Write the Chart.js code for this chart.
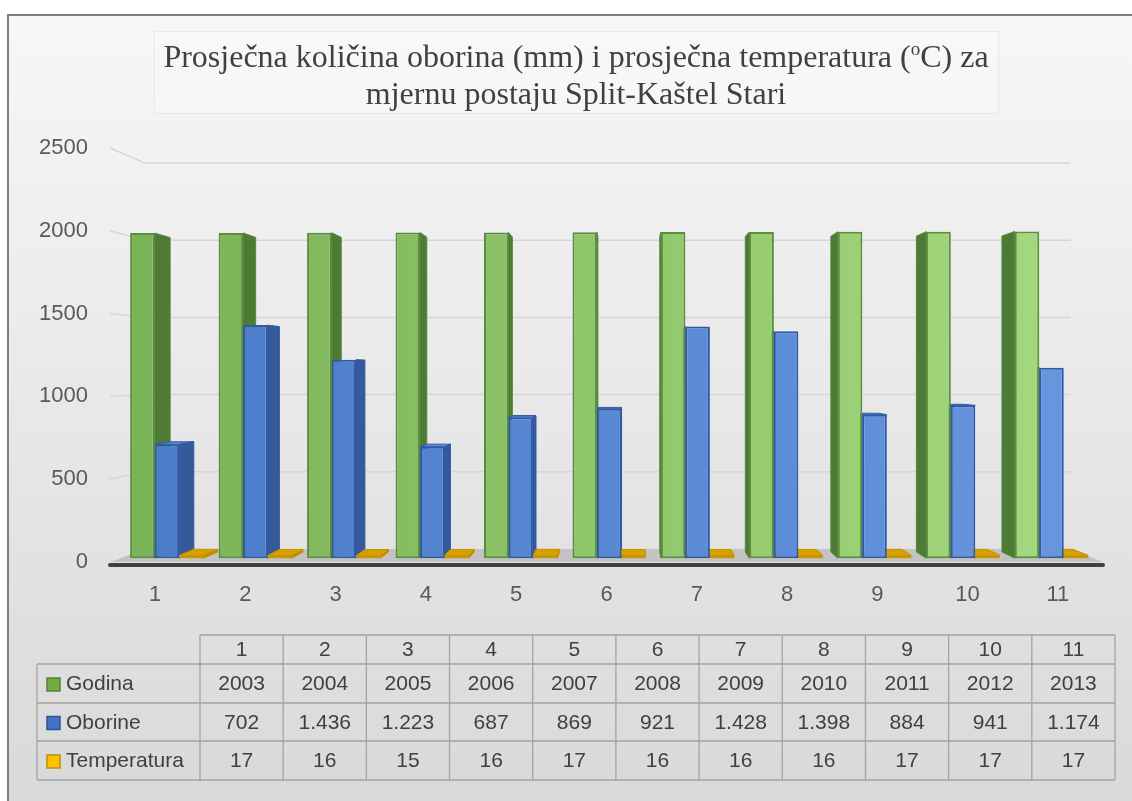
<!DOCTYPE html>
<html>
<head>
<meta charset="utf-8">
<script src="https://cdn.jsdelivr.net/npm/chart.js@4.4.0/dist/chart.umd.min.js"></script>
<style>
    html, body { margin: 0; padding: 0; background: #fff; }
    #chart-area { display: block; }
</style>
</head>
<body>
<canvas id="chart-area" width="1132" height="801"></canvas>
<script>
var categories = ['1', '2', '3', '4', '5', '6', '7', '8', '9', '10', '11'];
var godina = [2003, 2004, 2005, 2006, 2007, 2008, 2009, 2010, 2011, 2012, 2013];
var oborine = [702, 1436, 1223, 687, 869, 921, 1428, 1398, 884, 941, 1174];
var temperatura = [17, 16, 15, 16, 17, 16, 16, 16, 17, 17, 17];
var seriesNames = ['Godina', 'Oborine', 'Temperatura'];
var yTicks = [0, 500, 1000, 1500, 2000, 2500];
var titleLine1 = ['Prosječna količina oborina (mm) i prosječna temperatura (', 'o', 'C) za'];
var titleLine2 = 'mjernu postaju Split-Kaštel Stari';

// fake 3d: points converge to these
var VX = 741, VY = 370, SX = 625;
var BAR_K = 0.98, SIDE_K = 0.967, WALL_K = 0.932;

var faceColors = [
    {side: '#4d7b35', top: '#8dc466', edge: '#548a35'},
    {side: '#35599a', top: '#5f8dd8', edge: '#2f5aa6'},
    {side: '#b98a00', top: '#d6a000', edge: '#c69300'}
];

function proj(x, y, cx, k) {
    return [cx + (x - cx) * k, VY + (y - VY) * k];
}

// 1436 -> "1.436"
function fmt(n) {
    if (n < 1000) return String(n);
    var r = String(n % 1000);
    while (r.length < 3) r = '0' + r;
    return Math.floor(n / 1000) + '.' + r;
}

function hGrad(from, to) {
    return function (c) {
        var a = c.chart.chartArea;
        if (!a) return from;
        var g = c.chart.ctx.createLinearGradient(a.left, 0, a.right, 0);
        g.addColorStop(0, from);
        g.addColorStop(1, to);
        return g;
    };
}

var backgroundPlugin = {
    id: 'background',
    beforeDraw: function (chart) {
        var ctx = chart.ctx;
        ctx.save();
        ctx.fillStyle = '#fff';
        ctx.fillRect(0, 0, chart.width, chart.height);
        var g = ctx.createLinearGradient(0, 15, 0, chart.height);
        g.addColorStop(0, '#f7f7f7');
        g.addColorStop(1, '#d9d9d9');
        ctx.fillStyle = g;
        ctx.fillRect(8, 15, chart.width - 8, chart.height - 15);
        ctx.fillStyle = '#7f7f7f';
        ctx.fillRect(7, 14, chart.width - 7, 2);
        ctx.fillRect(7, 14, 2, chart.height - 14);
        // title box
        ctx.fillStyle = 'rgba(255,255,255,0.25)';
        ctx.fillRect(154, 31, 844, 82);
        ctx.strokeStyle = '#e8e8e8';
        ctx.lineWidth = 1;
        ctx.strokeRect(154.5, 31.5, 844, 82);
        ctx.restore();
    }
};

var depthPlugin = {
    id: 'depth',
    afterDatasetsUpdate: function (chart) {
        chart.data.datasets.forEach(function (ds, i) {
            chart.getDatasetMeta(i).data.forEach(function (el) {
                el.x = VX + (el.x - VX) * BAR_K;
                el.y = VY + (el.y - VY) * BAR_K;
                el.base = VY + (el.base - VY) * BAR_K;
                el.width = el.width * BAR_K;
            });
        });
    },
    beforeDatasetsDraw: function (chart) {
        var ctx = chart.ctx, a = chart.chartArea, ys = chart.scales.y;
        var base = ys.getPixelForValue(0);
        ctx.save();
        // floor
        var bl = proj(a.left, base, SX, WALL_K), br = proj(a.right, base, SX, WALL_K);
        ctx.fillStyle = '#c3c3c3';
        ctx.beginPath();
        ctx.moveTo(a.left, base);
        ctx.lineTo(a.right, base);
        ctx.lineTo(br[0], br[1]);
        ctx.lineTo(bl[0], bl[1]);
        ctx.closePath();
        ctx.fill();
        // gridlines on side and back wall
        ctx.strokeStyle = '#d6d6d6';
        ctx.lineWidth = 1.5;
        yTicks.forEach(function (v) {
            if (v === 0) return;
            var f = ys.getPixelForValue(v);
            var p1 = proj(a.left, f, SX, WALL_K), p2 = proj(a.right, f, SX, WALL_K);
            ctx.beginPath();
            ctx.moveTo(a.left, f);
            ctx.lineTo(p1[0], p1[1]);
            ctx.lineTo(p2[0], p1[1]);
            ctx.stroke();
        });
        ctx.strokeStyle = '#404040';
        ctx.lineWidth = 4;
        ctx.lineCap = 'round';
        ctx.beginPath();
        ctx.moveTo(a.left, base + 3);
        ctx.lineTo(a.right, base + 3);
        ctx.stroke();
        // side and top faces of bars
        ctx.lineWidth = 1;
        ctx.lineCap = 'butt';
        chart.data.datasets.forEach(function (ds, i) {
            var c = faceColors[i];
            chart.getDatasetMeta(i).data.forEach(function (el) {
                var l = el.x - el.width / 2, r = el.x + el.width / 2;
                var t = Math.min(el.y, el.base), b = el.base;
                var ex = null;
                if (r < SX) ex = r; else if (l > SX) ex = l;
                if (ex !== null) {
                    var q1 = proj(ex, t, SX, SIDE_K), q2 = proj(ex, b, SX, SIDE_K);
                    ctx.fillStyle = c.side;
                    ctx.strokeStyle = c.edge;
                    ctx.beginPath();
                    ctx.moveTo(ex, t);
                    ctx.lineTo(q1[0], q1[1]);
                    ctx.lineTo(q2[0], q2[1]);
                    ctx.lineTo(ex, b);
                    ctx.closePath();
                    ctx.fill();
                    ctx.stroke();
                }
                if (t > VY) {
                    var s1 = proj(l, t, SX, SIDE_K), s2 = proj(r, t, SX, SIDE_K);
                    ctx.fillStyle = c.top;
                    ctx.strokeStyle = c.edge;
                    ctx.beginPath();
                    ctx.moveTo(l, t);
                    ctx.lineTo(r, t);
                    ctx.lineTo(s2[0], s2[1]);
                    ctx.lineTo(s1[0], s1[1]);
                    ctx.closePath();
                    ctx.fill();
                    ctx.stroke();
                }
            });
        });
        ctx.restore();
    }
};

var titleTablePlugin = {
    id: 'titleTable',
    afterDraw: function (chart) {
        var ctx = chart.ctx;
        ctx.save();
        // title
        var size = 32;
        var supSize = 19;
        var serif = '"Liberation Serif", "Times New Roman", serif';
        ctx.font = size + 'px ' + serif;
        var w0 = ctx.measureText(titleLine1[0]).width, w2 = ctx.measureText(titleLine1[2]).width;
        ctx.font = supSize + 'px ' + serif;
        var w1 = ctx.measureText(titleLine1[1]).width;
        var x = 576 - (w0 + w1 + w2) / 2;
        ctx.fillStyle = '#404040';
        ctx.textBaseline = 'alphabetic';
        ctx.textAlign = 'left';
        ctx.font = size + 'px ' + serif;
        ctx.fillText(titleLine1[0], x, 67);
        ctx.font = supSize + 'px ' + serif;
        ctx.fillText(titleLine1[1], x + w0, 55);
        ctx.font = size + 'px ' + serif;
        ctx.fillText(titleLine1[2], x + w0 + w1, 67);
        ctx.textAlign = 'center';
        ctx.fillText(titleLine2, 576, 104);

        // data table
        var left = 37, labelRight = 200, colW = (1115 - 200) / categories.length;
        var rowsY = [635, 664, 703, 741, 780];
        var rows = [
            {name: seriesNames[0], vals: godina.map(String), fill: '#70ad47', stroke: '#548235'},
            {name: seriesNames[1], vals: oborine.map(fmt), fill: '#4472c4', stroke: '#2f5597'},
            {name: seriesNames[2], vals: temperatura.map(String), fill: '#ffc000', stroke: '#bf9000'}
        ];
        var right = labelRight + colW * categories.length;
        ctx.strokeStyle = '#a3a3a3';
        ctx.lineWidth = 1.3;
        ctx.beginPath();
        ctx.moveTo(labelRight, rowsY[0]);
        ctx.lineTo(right, rowsY[0]);
        for (var r = 1; r < rowsY.length; r++) {
            ctx.moveTo(left, rowsY[r]);
            ctx.lineTo(right, rowsY[r]);
        }
        ctx.moveTo(left, rowsY[1]);
        ctx.lineTo(left, rowsY[4]);
        for (var c = 0; c <= categories.length; c++) {
            var cx = labelRight + c * colW;
            ctx.moveTo(cx, rowsY[0]);
            ctx.lineTo(cx, rowsY[4]);
        }
        ctx.stroke();

        ctx.fillStyle = '#404040';
        ctx.font = '21px "Liberation Sans", Arial, sans-serif';
        ctx.textBaseline = 'middle';
        ctx.textAlign = 'center';
        categories.forEach(function (cat, i) {
            ctx.fillText(cat, labelRight + (i + 0.5) * colW, (rowsY[0] + rowsY[1]) / 2 + 1);
        });
        rows.forEach(function (row, ri) {
            var cy = (rowsY[ri + 1] + rowsY[ri + 2]) / 2 + 1;
            ctx.fillStyle = row.fill;
            ctx.fillRect(47, cy - 6.5, 13, 13);
            ctx.strokeStyle = row.stroke;
            ctx.lineWidth = 1.5;
            ctx.strokeRect(47, cy - 6.5, 13, 13);
            ctx.fillStyle = '#404040';
            ctx.textAlign = 'left';
            ctx.fillText(row.name, 66, cy);
            ctx.textAlign = 'center';
            row.vals.forEach(function (v, i) {
                ctx.fillText(v, labelRight + (i + 0.5) * colW, cy);
            });
        });
        ctx.restore();
    }
};

var tickFont = {family: '"Liberation Sans", Arial, sans-serif', size: 22};

var config = {
    type: 'bar',
    data: {
        labels: categories,
        datasets: [{
                label: seriesNames[0],
                data: godina,
                backgroundColor: hGrad('#79b157', '#a6da80'),
                borderColor: '#5a8e3b',
                borderWidth: 2,
                borderSkipped: false
            }, {
                label: seriesNames[1],
                data: oborine,
                backgroundColor: hGrad('#4a7bc8', '#6896df'),
                borderColor: '#2f5aa6',
                borderWidth: 2,
                borderSkipped: false
            }, {
                label: seriesNames[2],
                data: temperatura,
                backgroundColor: '#c99600',
                borderColor: '#c99600',
                borderWidth: 0,
                borderSkipped: false
            }]
    },
    options: {
        responsive: false,
        animation: false,
        devicePixelRatio: 1,
        layout: {
            padding: {top: 148, right: 29, bottom: 150, left: 0}
        },
        plugins: {
            legend: {display: false},
            title: {display: false},
            tooltip: {enabled: false}
        },
        datasets: {
            bar: {categoryPercentage: 0.83, barPercentage: 1}
        },
        scales: {
            x: {
                grid: {display: false, drawTicks: false},
                border: {display: false},
                ticks: {color: '#595959', font: tickFont, padding: 20, maxRotation: 0},
                afterFit: function (scale) { scale.height = 89; }
            },
            y: {
                min: 0,
                max: 2500,
                grid: {display: false, drawTicks: false},
                border: {display: false},
                ticks: {
                    color: '#595959',
                    font: tickFont,
                    padding: 22,
                    stepSize: 500,
                    callback: function (v) { return String(v); }
                },
                afterFit: function (scale) { scale.width = 110; }
            }
        }
    },
    plugins: [backgroundPlugin, depthPlugin, titleTablePlugin]
};

var ctx = document.getElementById('chart-area').getContext('2d');
var myChart = new Chart(ctx, config);
</script>
</body>
</html>
